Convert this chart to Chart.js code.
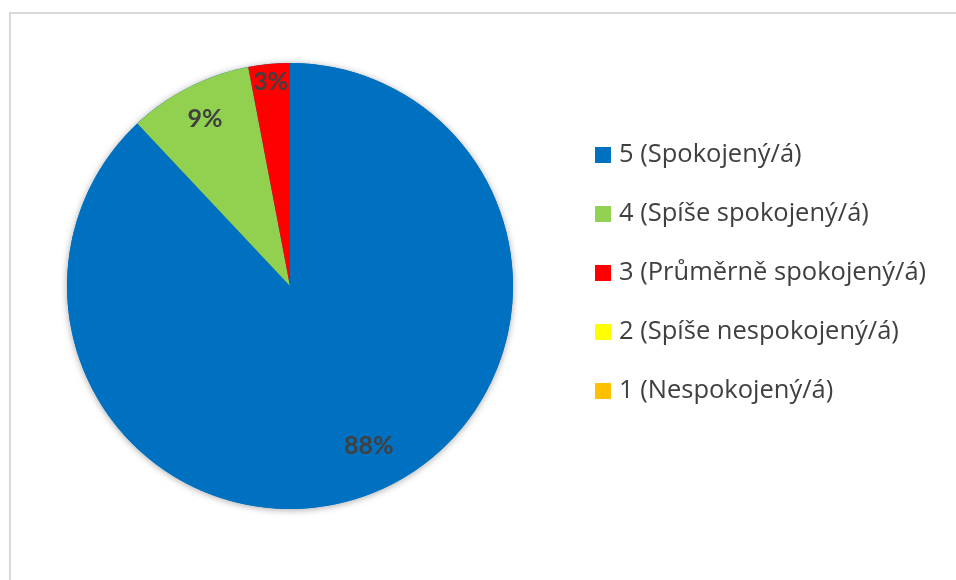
<!DOCTYPE html>
<html>
<head>
<meta charset="utf-8">
<script src="https://cdn.jsdelivr.net/npm/chart.js@4.4.1/dist/chart.umd.min.js"></script>
<style>
  html, body { margin: 0; padding: 0; background: #fff; }
  #wrap { position: relative; width: 956px; height: 580px; }
  #frame { position: absolute; left: 9px; top: 12px; right: 0; bottom: 0;
           border-top: 2px solid #d9d9d9; border-left: 2px solid #d9d9d9; }
  canvas { position: absolute; left: 0; top: 0; }
</style>
</head>
<body>
<div id="wrap">
  <div id="frame"></div>
  <canvas id="pieChart" width="956" height="580"></canvas>
</div>
<script>
// hodnocení spokojenosti
const categories = ['5 (Spokojený/á)', '4 (Spíše spokojený/á)', '3 (Průměrně spokojený/á)', '2 (Spíše nespokojený/á)', '1 (Nespokojený/á)'];
const shares = [88, 9, 3, 0, 0];
const colors = ['#0070C0', '#92D050', '#FF0000', '#FFFF00', '#FFC000'];

// stín pod koláčem
const shadowPlugin = {
  id: 'pieShadow',
  beforeDatasetsDraw(chart) {
    const arc = chart.getDatasetMeta(0).data[0];
    const ctx = chart.ctx;
    ctx.save();
    ctx.shadowColor = 'rgba(0,0,0,0.35)';
    ctx.shadowBlur = 7;
    ctx.shadowOffsetX = 0;
    ctx.shadowOffsetY = 1;
    ctx.fillStyle = colors[0];
    ctx.beginPath();
    ctx.arc(arc.x, arc.y, arc.outerRadius, 0, Math.PI * 2);
    ctx.fill();
    ctx.restore();
  }
};

// popisky procent
const labelPlugin = {
  id: 'pctLabels',
  afterDatasetsDraw(chart, args, opts) {
    const ctx = chart.ctx;
    const meta = chart.getDatasetMeta(0);
    ctx.save();
    ctx.font = 'bold 25px Lato, sans-serif';
    ctx.fillStyle = '#404040';
    ctx.textAlign = 'center';
    ctx.textBaseline = 'middle';
    meta.data.forEach((arc, i) => {
      const v = shares[i];
      if (!v) return;
      const mid = (arc.startAngle + arc.endAngle) / 2 + opts.shift[i];
      const r = arc.outerRadius * opts.radius[i];
      ctx.fillText(v + '%', arc.x + Math.cos(mid) * r, arc.y + Math.sin(mid) * r);
    });
    ctx.restore();
  }
};

// legenda vpravo
const legendPlugin = {
  id: 'sideLegend',
  afterDraw(chart, args, opts) {
    const ctx = chart.ctx;
    const ds = chart.data.datasets[0];
    ctx.save();
    ctx.font = '25.5px "Open Sans", sans-serif';
    ctx.textBaseline = 'middle';
    chart.data.labels.forEach((lab, i) => {
      const y = opts.top + i * opts.step;
      ctx.fillStyle = ds.backgroundColor[i];
      ctx.fillRect(opts.left, y - 8, 16, 16);
      ctx.fillStyle = '#404040';
      ctx.fillText(lab, opts.left + 24, y);
    });
    ctx.restore();
  }
};

let pieCtx = document.getElementById('pieChart');
let pieConfig = {
  type: 'pie',
  data: {
    labels: categories,
    datasets: [{
      data: shares,
      backgroundColor: colors,
      borderWidth: 0,
    }],
  },
  options: {
    responsive: false,
    animation: false,
    layout: { padding: { left: 67, right: 443, top: 63, bottom: 71 } },
    plugins: {
      legend: { display: false },
      tooltip: { enabled: false },
      pctLabels: { radius: [0.80, 0.84, 0.92, 0.8, 0.8], shift: [-0.08, 0, 0, 0, 0] },
      sideLegend: { left: 595, top: 155, step: 59 },
    },
  },
  plugins: [shadowPlugin, labelPlugin, legendPlugin],
};
let pieChart = new Chart(pieCtx, pieConfig);
</script>
</body>
</html>
